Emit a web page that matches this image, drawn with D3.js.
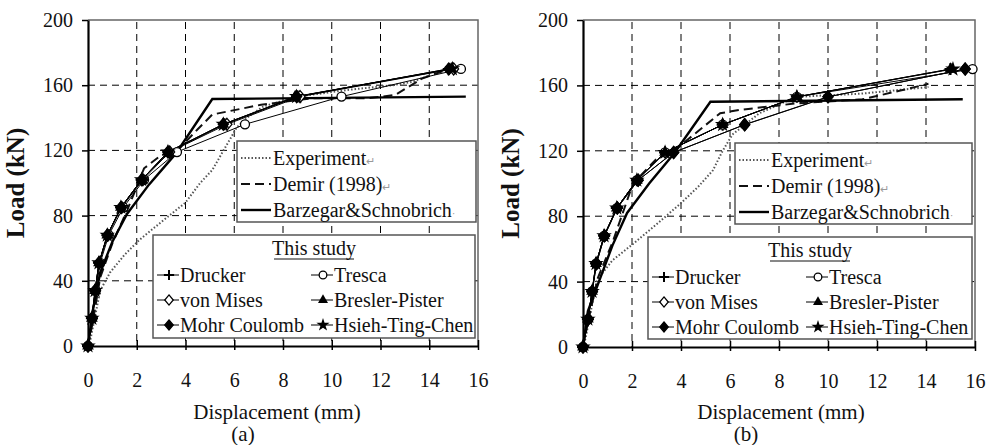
<!DOCTYPE html>
<html>
<head>
<meta charset="utf-8">
<script src="https://cdn.jsdelivr.net/npm/d3@7"></script>
<style>
  body { margin: 0; background: #fff; }
  svg { display: block; }
</style>
</head>
<body>
<div id="chart"></div>
<script>
// axis ticks
const xTicks = [0, 2, 4, 6, 8, 10, 12, 14, 16];
const yTicks = [0, 40, 80, 120, 160, 200];

// load steps used by the six models of "This study"
const loadSteps = [0, 17, 34, 51, 68, 85, 102, 119, 136, 153, 170];

// panel (a) reference curves: [displacement, load]
const expA = [[0, 0], [0.1, 4], [0.5, 34], [0.9, 45], [1.5, 56], [2.1, 65], [3.0, 76], [4.0, 88], [4.6, 100], [5.1, 108], [5.6, 121], [6.1, 134], [6.6, 141], [7.2, 147], [8.6, 153], [10.6, 157], [12.5, 160], [13.3, 162], [14.0, 166]];
const demirA = [[0, 0], [0.2, 15], [0.5, 42], [1.0, 63], [1.6, 83], [1.9, 94], [2.3, 109], [3.0, 117], [3.8, 122], [4.5, 133], [5.1, 142], [7.1, 148], [9.2, 152], [11.5, 152], [12.6, 154], [13.7, 164], [14.8, 170]];
const barzA = [[0, 0], [0.2, 22], [0.5, 45], [1.0, 64], [1.6, 81], [2.5, 99], [3.6, 118], [5.1, 151.5], [15.5, 153]];

// panel (a) "This study" displacements at loadSteps
const druckerA = [0, 0.16, 0.29, 0.45, 0.80, 1.36, 2.20, 3.30, 5.60, 8.60, 14.80];
const trescaA = [0, 0.18, 0.32, 0.50, 0.85, 1.45, 2.30, 3.65, 6.44, 10.40, 15.30];
const vonMisesA = [0, 0.17, 0.30, 0.46, 0.81, 1.38, 2.25, 3.35, 5.70, 8.70, 15.00];
const breslerA = [0, 0.16, 0.29, 0.45, 0.79, 1.35, 2.20, 3.28, 5.55, 8.50, 14.90];
const mohrA = [0, 0.16, 0.29, 0.45, 0.79, 1.35, 2.20, 3.28, 5.55, 8.56, 14.80];
const hsiehA = [0, 0.16, 0.29, 0.45, 0.79, 1.35, 2.20, 3.28, 5.55, 8.56, 14.95];

// panel (b) reference curves
const expB = [[0, 0], [0.1, 5], [0.57, 41], [1.2, 53], [2.04, 63], [3.0, 75], [4.0, 88], [4.7, 98], [5.3, 108], [5.7, 120], [6.1, 130], [7.2, 143], [8.7, 153], [11.4, 155], [14.1, 159]];
const demirB = [[0, 0], [0.2, 15], [0.6, 42], [1.23, 65], [2.04, 100], [3.0, 115], [3.96, 123], [5.6, 143], [6.4, 145], [8.7, 149], [11.4, 151.5], [13.0, 157], [14.1, 161]];
const barzB = [[0, 0], [0.2, 22], [0.7, 42], [1.2, 62], [1.8, 82], [2.7, 100], [3.75, 119], [5.2, 150], [15.5, 151.5]];

// panel (b) "This study" displacements at loadSteps
const druckerB = [0, 0.20, 0.37, 0.53, 0.86, 1.38, 2.20, 3.35, 5.70, 8.73, 15.00];
const trescaB = [0, 0.20, 0.37, 0.53, 0.86, 1.38, 2.20, 3.35, 5.70, 8.73, 15.90];
const vonMisesB = [0, 0.21, 0.38, 0.55, 0.88, 1.40, 2.25, 3.70, 6.60, 10.00, 15.60];
const breslerB = [0, 0.20, 0.37, 0.53, 0.86, 1.38, 2.20, 3.35, 5.70, 8.73, 15.00];
const mohrB = [0, 0.21, 0.38, 0.55, 0.88, 1.40, 2.25, 3.70, 6.60, 10.00, 15.60];
const hsiehB = [0, 0.20, 0.37, 0.53, 0.86, 1.38, 2.20, 3.35, 5.70, 8.73, 15.10];

const modelNames = ["Drucker", "Tresca", "von Mises", "Bresler-Pister", "Mohr Coulomb", "Hsieh-Ting-Chen"];
const modelMarks = ["plus", "circle", "diamondOpen", "triangle", "diamond", "star"];

const FONT = '"Liberation Serif"';

const svg = d3.select("#chart").append("svg")
  .attr("width", 987)
  .attr("height", 445);

function label(g, x, y, size, str) {
  return g.append("text").attr("x", x).attr("y", y)
    .style("font-family", FONT).style("font-size", size + "px").attr("fill", "#111").text(str);
}

function marker(g, type, x, y, s = 1) {
  if (type === "plus") {
    g.append("path").attr("d", `M${x - 6 * s},${y}H${x + 6 * s}M${x},${y - 6 * s}V${y + 6 * s}`)
      .attr("stroke", "#000").attr("stroke-width", 2);
  } else if (type === "circle") {
    g.append("circle").attr("cx", x).attr("cy", y).attr("r", 4.5 * s)
      .attr("fill", "#fff").attr("stroke", "#000").attr("stroke-width", 1.3);
  } else if (type === "diamondOpen" || type === "diamond") {
    g.append("path").attr("d", `M${x},${y - 6 * s}L${x + 5 * s},${y}L${x},${y + 6 * s}L${x - 5 * s},${y}Z`)
      .attr("fill", type === "diamond" ? "#000" : "#fff").attr("stroke", "#000").attr("stroke-width", 1.3);
  } else if (type === "triangle") {
    g.append("path").attr("d", d3.symbol(d3.symbolTriangle, 60 * s * s)()).attr("transform", `translate(${x},${y})`)
      .attr("fill", "#000");
  } else if (type === "star") {
    g.append("path").attr("d", d3.symbol(d3.symbolStar, 75 * s * s)()).attr("transform", `translate(${x},${y})`)
      .attr("fill", "#000");
  }
}

function drawPanel(p) {
  const x = d3.scaleLinear().domain([0, 16]).range([p.left, p.right]);
  const y = d3.scaleLinear().domain([0, 200]).range([p.bottom, p.top]);
  const g = svg.append("g");

  // grid
  g.append("g").selectAll("line").data(xTicks.filter(d => d > 0 && d < 16)).join("line")
    .attr("x1", d => x(d)).attr("x2", d => x(d)).attr("y1", p.top + 2).attr("y2", p.bottom)
    .attr("stroke", "#000").attr("stroke-width", 1).attr("stroke-dasharray", "7,5");
  g.append("g").selectAll("line").data(yTicks.filter(d => d > 0 && d < 200)).join("line")
    .attr("x1", p.left).attr("x2", p.right).attr("y1", d => y(d)).attr("y2", d => y(d))
    .attr("stroke", "#000").attr("stroke-width", 1).attr("stroke-dasharray", "7,5");

  // frame top/right
  g.append("path").attr("d", `M${p.left},${p.top}H${p.right}V${p.bottom}`)
    .attr("fill", "none").attr("stroke", "#666").attr("stroke-width", 1.5);

  // axes
  const xa = g.append("g").attr("transform", `translate(0,${p.bottom})`)
    .call(d3.axisBottom(x).tickValues(xTicks).tickSize(4).tickSizeOuter(0).tickPadding(30));
  xa.selectAll(".tick line").attr("y1", -6).attr("stroke-width", 1.5);
  const ya = g.append("g").attr("transform", `translate(${p.left},0)`)
    .call(d3.axisLeft(y).tickValues(yTicks).tickSize(6).tickSizeOuter(0).tickPadding(9));
  ya.selectAll(".tick line").attr("stroke-width", 1.5);
  [xa, ya].forEach(a => {
    a.select(".domain").attr("stroke-width", 2.2);
    a.selectAll(".tick text").style("font-family", FONT).style("font-size", "20px").attr("fill", "#111");
  });
  xa.selectAll(".tick text").attr("dy", "0.35em");

  const line = d3.line().x(d => x(d[0])).y(d => y(d[1]));
  const curves = g.append("g").attr("fill", "none");
  curves.append("path").attr("d", line(p.exp))
    .attr("stroke", "#555").attr("stroke-width", 2).attr("stroke-dasharray", "1.5,2");
  curves.append("path").attr("d", line(p.demir))
    .attr("stroke", "#111").attr("stroke-width", 2).attr("stroke-dasharray", "9,5");
  curves.append("path").attr("d", line(p.barz))
    .attr("stroke", "#000").attr("stroke-width", 2.4);

  p.models.forEach((disp, i) => {
    const pts = disp.map((d, j) => [d, loadSteps[j]]);
    curves.append("path").attr("d", line(pts)).attr("stroke", "#000").attr("stroke-width", 1);
    const mg = g.append("g");
    pts.forEach(pt => marker(mg, modelMarks[i], x(pt[0]), y(pt[1])));
  });

  // axis titles
  label(g, 0, 0, 25, "Load (kN)")
    .attr("transform", `translate(${p.left - 64},${(p.top + p.bottom) / 2}) rotate(-90)`)
    .attr("text-anchor", "middle").style("font-weight", "bold");
  label(g, p.titleX, 419, 21, "Displacement (mm)").attr("text-anchor", "middle");
  label(g, p.tagX, 441, 21, p.tag).attr("text-anchor", "middle");

  // upper legend
  const l1 = p.leg1;
  g.append("rect").attr("x", l1.x).attr("y", l1.y).attr("width", l1.w).attr("height", l1.h)
    .attr("fill", "#fff").attr("stroke", "#555").attr("stroke-width", 1.5);
  const refs = [
    { label: "Experiment", tail: "\u21b5", stroke: "#555", w: 2, dash: "1.5,2" },
    { label: "Demir (1998)", tail: "\u21b5", stroke: "#111", w: 2, dash: "9,5" },
    { label: "Barzegar&Schnobrich", tail: "\u00b7", stroke: "#000", w: 2.4, dash: null }
  ];
  refs.forEach((r, i) => {
    const cy = l1.y + 17 + i * 26;
    g.append("line").attr("x1", l1.x + 4).attr("x2", l1.x + 34).attr("y1", cy).attr("y2", cy)
      .attr("stroke", r.stroke).attr("stroke-width", r.w).attr("stroke-dasharray", r.dash);
    const t = label(g, l1.x + 36, cy + 7, 20, null);
    t.append("tspan").text(r.label);
    t.append("tspan").style("font-size", "11px").attr("fill", "#999").text(r.tail);
  });

  // lower legend
  const l2 = p.leg2;
  g.append("rect").attr("x", l2.x).attr("y", l2.y).attr("width", l2.w).attr("height", l2.h)
    .attr("fill", "#fff").attr("stroke", "#555").attr("stroke-width", 1.5);
  const cx = l2.x + l2.w / 2;
  label(g, cx, l2.y + 20, 20, "This study").attr("text-anchor", "middle");
  g.append("line").attr("x1", cx - 40).attr("x2", cx + 40).attr("y1", l2.y + 24).attr("y2", l2.y + 24)
    .attr("stroke", "#111").attr("stroke-width", 1);
  modelNames.forEach((name, i) => {
    const col = i % 2, row = Math.floor(i / 2);
    const x0 = l2.x + (col === 0 ? 4 : l2.colX);
    const cy = l2.y + 40 + row * 25;
    g.append("line").attr("x1", x0).attr("x2", x0 + 22).attr("y1", cy).attr("y2", cy)
      .attr("stroke", "#000").attr("stroke-width", 1);
    marker(g, modelMarks[i], x0 + 12, cy, 0.85);
    label(g, x0 + 23, cy + 7, 20, name);
  });
}

drawPanel({
  left: 88, right: 478, top: 20, bottom: 346,
  exp: expA, demir: demirA, barz: barzA,
  models: [druckerA, trescaA, vonMisesA, breslerA, mohrA, hsiehA],
  titleX: 277, tagX: 243, tag: "(a)",
  leg1: { x: 237, y: 141, w: 239, h: 81 },
  leg2: { x: 153, y: 235, w: 322, h: 103, colX: 158 }
});

drawPanel({
  left: 583, right: 975, top: 20, bottom: 347,
  exp: expB, demir: demirB, barz: barzB,
  models: [druckerB, trescaB, vonMisesB, breslerB, mohrB, hsiehB],
  titleX: 781, tagX: 746, tag: "(b)",
  leg1: { x: 735, y: 143, w: 237, h: 81 },
  leg2: { x: 648, y: 237, w: 324, h: 102, colX: 158 }
});
</script>
</body>
</html>
